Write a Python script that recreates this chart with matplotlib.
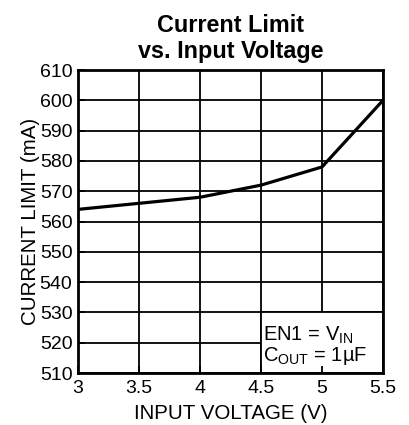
import numpy as np
import matplotlib
matplotlib.use('Agg')
import matplotlib.pyplot as plt
from matplotlib.patches import Rectangle

plt.rcParams['font.family'] = ['Liberation Sans', 'DejaVu Sans']
plt.rcParams['mathtext.fontset'] = 'custom'
plt.rcParams['mathtext.rm'] = 'Liberation Sans'

# data
vin = [3.0, 3.5, 4.0, 4.5, 5.0, 5.5]
ilim = [564, 566, 568, 572, 578, 600]

xticks = [3, 3.5, 4, 4.5, 5, 5.5]
yticks = list(range(510, 611, 10))
xtick_labels = ['3', '3.5', '4', '4.5', '5', '5.5']

fig = plt.figure(figsize=(4.1, 4.25), dpi=100)
ax = fig.add_axes([78 / 410, 52 / 425, 305 / 410, 303 / 425])

# grid drawn by hand so the note box can sit over it
for x in xticks:
    ax.axvline(x, color='black', lw=1.3, zorder=0.8)
for y in yticks:
    ax.axhline(y, color='black', lw=1.3, zorder=0.8)

ax.plot(vin, ilim, color='black', lw=2.3, zorder=3)

# conditions box in the lower right
ax.add_patch(Rectangle((4.5, 510), 1.0, 20, facecolor='white',
                       edgecolor='black', lw=1.3, zorder=1))
ax.text(4.52, 520.6, r'EN1 = V$_{\mathrm{IN}}$', fontsize=14.5, va='baseline', zorder=4)
ax.text(4.52, 514.0, r'C$_{\mathrm{OUT}}$ = 1µF', fontsize=14.5, va='baseline', zorder=4)

ax.set_xlim(3, 5.5)
ax.set_ylim(510, 610)
ax.set_xticks(xticks)
ax.set_xticklabels(xtick_labels)
ax.set_yticks(yticks)
ax.tick_params(direction='in', length=5, width=1.3, labelsize=14, pad=4)
ax.tick_params(axis='x', pad=5)
for s in ax.spines.values():
    s.set_linewidth(2)

ax.set_xlabel('INPUT VOLTAGE (V)', fontsize=14.8, labelpad=5)
ax.set_ylabel('CURRENT LIMIT (mA)', fontsize=14.8, labelpad=0)
ax.set_title('Current Limit\nvs. Input Voltage', fontsize=16.8, fontweight='bold',
             linespacing=1.15, pad=9)

fig.savefig('out.png', dpi=100)
